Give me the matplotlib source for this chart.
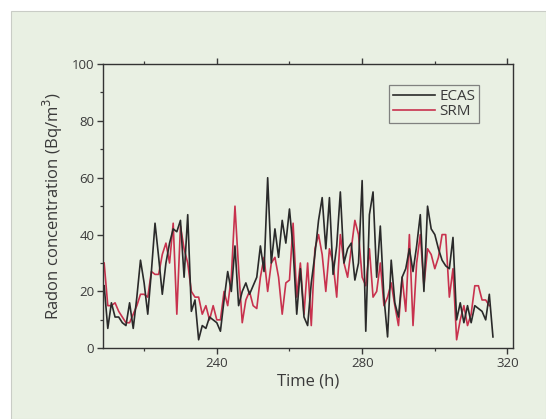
import numpy as np
import matplotlib
matplotlib.use("Agg")
import matplotlib.pyplot as plt
from matplotlib.patches import Rectangle
from matplotlib.ticker import MultipleLocator

# Hourly radon readings from two instruments
time_h = list(range(209, 317))

ecas = [22, 7, 16, 11, 11, 9, 8, 16, 7, 18,
        31, 23, 12, 27, 44, 32, 19, 30, 37, 42,
        41, 45, 25, 47, 13, 17, 3, 8, 7, 11,
        10, 9, 6, 17, 27, 20, 36, 15, 20, 23,
        19, 22, 25, 36, 27, 60, 30, 42, 32, 45,
        37, 49, 35, 12, 28, 11, 8, 23, 33, 45,
        53, 35, 53, 26, 36, 55, 30, 35, 37, 24,
        30, 59, 6, 47, 55, 25, 43, 18, 4, 31,
        16, 11, 25, 28, 35, 27, 36, 47, 20, 50,
        42, 40, 35, 31, 29, 28, 39, 10, 16, 9,
        15, 9, 15, 14, 13, 10, 19, 4]

srm = [30, 15, 15, 16, 13, 11, 9, 9, 12, 15,
       19, 19, 18, 27, 26, 26, 33, 37, 30, 44,
       12, 43, 35, 30, 20, 18, 18, 12, 15, 10,
       15, 10, 10, 20, 15, 25, 50, 28, 9, 17,
       20, 15, 14, 25, 32, 20, 30, 32, 25, 12,
       23, 24, 44, 18, 30, 12, 30, 8, 35, 40,
       33, 20, 35, 30, 18, 40, 30, 25, 35, 45,
       40, 25, 22, 35, 18, 20, 30, 15, 18, 23,
       15, 8, 25, 13, 40, 8, 30, 40, 22, 35,
       33, 28, 32, 40, 40, 18, 28, 3, 10, 15,
       8, 12, 22, 22, 17, 17, 15, np.nan]

W, H = 546, 419
plt.rcParams["font.family"] = ["Open Sans", "DejaVu Sans"]
fig = plt.figure(figsize=(W / 100, H / 100), dpi=100, facecolor="white")

panel_color = "#e9f0e3"
panel = Rectangle((11 / W, 0), 1 - 11 / W, 1 - 11 / H,
                  transform=fig.transFigure, facecolor=panel_color,
                  edgecolor="#c9ccc6", linewidth=0.8, zorder=-10)
fig.add_artist(panel)

ax = fig.add_axes([102.7 / W, 1 - 348.3 / H, (513.3 - 102.7) / W, (348.3 - 64) / H])
ax.set_zorder(1)
ax.set_facecolor(panel_color)

ax.plot(time_h, ecas, color="#2a2a2a", linewidth=1.2, label="ECAS", zorder=3)
ax.plot(time_h, srm, color="#c8324e", linewidth=1.2, label="SRM", zorder=2)

ax.set_xlim(208.6, 321.6)
ax.set_ylim(0, 100)

ax.set_xticks([240, 280, 320])
ax.xaxis.set_minor_locator(MultipleLocator(20))
ax.yaxis.set_major_locator(MultipleLocator(20))
ax.yaxis.set_minor_locator(MultipleLocator(10))

text_color = "#3a3a3a"
ax.tick_params(axis="both", which="major", direction="out", length=4, width=1.0,
               colors=text_color, labelsize=9.5, top=True, right=False)
ax.tick_params(axis="both", which="minor", direction="out", length=2.5, width=0.9,
               colors=text_color, top=True, right=False)
ax.tick_params(axis="x", which="major", pad=2)
ax.tick_params(axis="y", which="major", pad=2)

for sp in ax.spines.values():
    sp.set_color("#333333")
    sp.set_linewidth(1.0)

ax.set_xlabel("Time (h)", fontsize=12, color=text_color, labelpad=3)
ax.set_ylabel("Radon concentration (Bq/m$^3$)", fontsize=12, color=text_color, labelpad=5)

leg = ax.legend(loc="upper left", bbox_to_anchor=(0.697, 0.925), fontsize=11,
                frameon=True, fancybox=False, edgecolor="#666666",
                handlelength=2.8, handletextpad=0.25, borderpad=0.25,
                labelspacing=0.0, borderaxespad=0)
leg.get_frame().set_facecolor(panel_color)
leg.get_frame().set_linewidth(0.9)
for t in leg.get_texts():
    t.set_color(text_color)

fig.savefig("out.png", dpi=100, facecolor="white")
